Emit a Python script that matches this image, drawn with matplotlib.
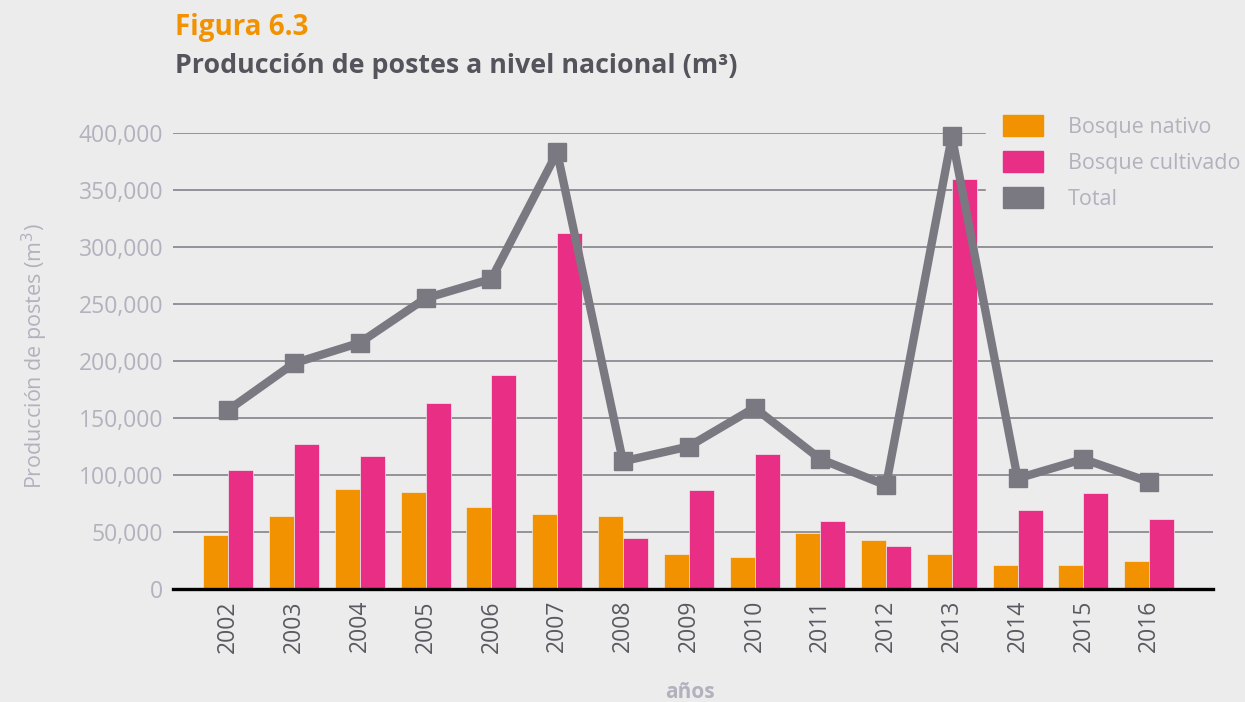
import numpy as np
import matplotlib
matplotlib.use("Agg")
import matplotlib.pyplot as plt
from matplotlib.patches import Patch
from matplotlib.ticker import FuncFormatter

# datos (m3)
anios = ["2002", "2003", "2004", "2005", "2006", "2007", "2008", "2009",
         "2010", "2011", "2012", "2013", "2014", "2015", "2016"]
nativo = [47000, 64000, 88000, 85000, 72000, 66000, 64000, 31000,
          28000, 49000, 43000, 31000, 21000, 21000, 25000]
cultivado = [104000, 127000, 117000, 163000, 188000, 312000, 45000, 87000,
             118000, 60000, 38000, 360000, 69000, 84000, 61000]
total = [157000, 198000, 216000, 255000, 272000, 383000, 112000, 125000,
         159000, 114000, 91000, 397000, 97000, 114000, 94000]
yticks = [0, 50000, 100000, 150000, 200000, 250000, 300000, 350000, 400000]

NARANJA = "#f39200"
ROSA = "#e92e86"
GRIS = "#7a7982"
FONDO = "#ececec"
TXT_CLARO = "#b3b1be"

plt.rcParams["font.family"] = ["Open Sans", "DejaVu Sans"]

W, H = 1245, 702
fig = plt.figure(figsize=(W / 100, H / 100), dpi=100, facecolor=FONDO)
# ejes en coordenadas de pixel
x0, x1, y0, y1 = 173, 1213, 589, 133
ax = fig.add_axes([x0 / W, 1 - y0 / H, (x1 - x0) / W, (y0 - y1) / H])
ax.set_facecolor(FONDO)

x = np.arange(len(anios))
ancho = 0.38
ax.bar(x - ancho / 2, nativo, ancho, color=NARANJA, zorder=2,
       edgecolor=FONDO, linewidth=0.5)
ax.bar(x + ancho / 2, cultivado, ancho, color=ROSA, zorder=2,
       edgecolor=FONDO, linewidth=0.5)
ax.plot(x, total, color=GRIS, lw=6, marker="s", ms=13.5,
        solid_joinstyle="bevel", zorder=3, clip_on=False)

ax.set_xlim(-0.84, len(anios) - 1 + 0.97)
ax.set_ylim(0, 400000)
ax.set_yticks(yticks)
ax.yaxis.set_major_formatter(FuncFormatter(lambda v, p: f"{int(v):,}"))
ax.grid(axis="y", color="#8c8b93", lw=1.3, zorder=1)
ax.set_axisbelow(True)
for s in ["top", "right", "left"]:
    ax.spines[s].set_visible(False)
ax.spines["bottom"].set_color("black")
ax.spines["bottom"].set_linewidth(2.4)
ax.spines["bottom"].set_zorder(4)

ax.tick_params(axis="y", length=0, pad=7, labelsize=16.5, labelcolor=TXT_CLARO)
ax.set_xticks(x)
ax.set_xticklabels(anios, rotation=90, fontsize=16.5, color="#5a5961",
                   fontweight="medium")
ax.tick_params(axis="x", length=0, pad=8)

ax.set_ylabel("Producción de postes (m$^3$)", fontsize=15.5, color=TXT_CLARO)
ax.yaxis.set_label_coords(-0.118, 0.51)
fig.text(690 / W, 1 - 692 / H, "años", ha="center", va="center",
         fontsize=15, color=TXT_CLARO, fontweight="bold")

# títulos
fig.text(175 / W, 1 - 27 / H, "Figura 6.3", ha="left", va="center",
         fontsize=20, color=NARANJA, fontweight="bold")
fig.text(175 / W, 1 - 66 / H, "Producción de postes a nivel nacional (m³)",
         ha="left", va="center", fontsize=19.3, color="#55545c",
         fontweight="bold")

# leyenda (con fondo opaco que tapa las líneas de grilla)
handles = [Patch(color=NARANJA), Patch(color=ROSA), Patch(color=GRIS)]
leg = fig.legend(handles, ["Bosque nativo", "Bosque cultivado", "Total"],
                 loc="upper left", bbox_to_anchor=(986 / W, 1 - 98 / H),
                 frameon=True, facecolor=FONDO, edgecolor=FONDO,
                 framealpha=1, fancybox=False, fontsize=15.5,
                 labelcolor=TXT_CLARO, handlelength=1.86, handleheight=1.12,
                 handletextpad=1.16, labelspacing=0.62, borderpad=0.8,
                 borderaxespad=0)

fig.savefig("out.png", dpi=100, facecolor=FONDO)
